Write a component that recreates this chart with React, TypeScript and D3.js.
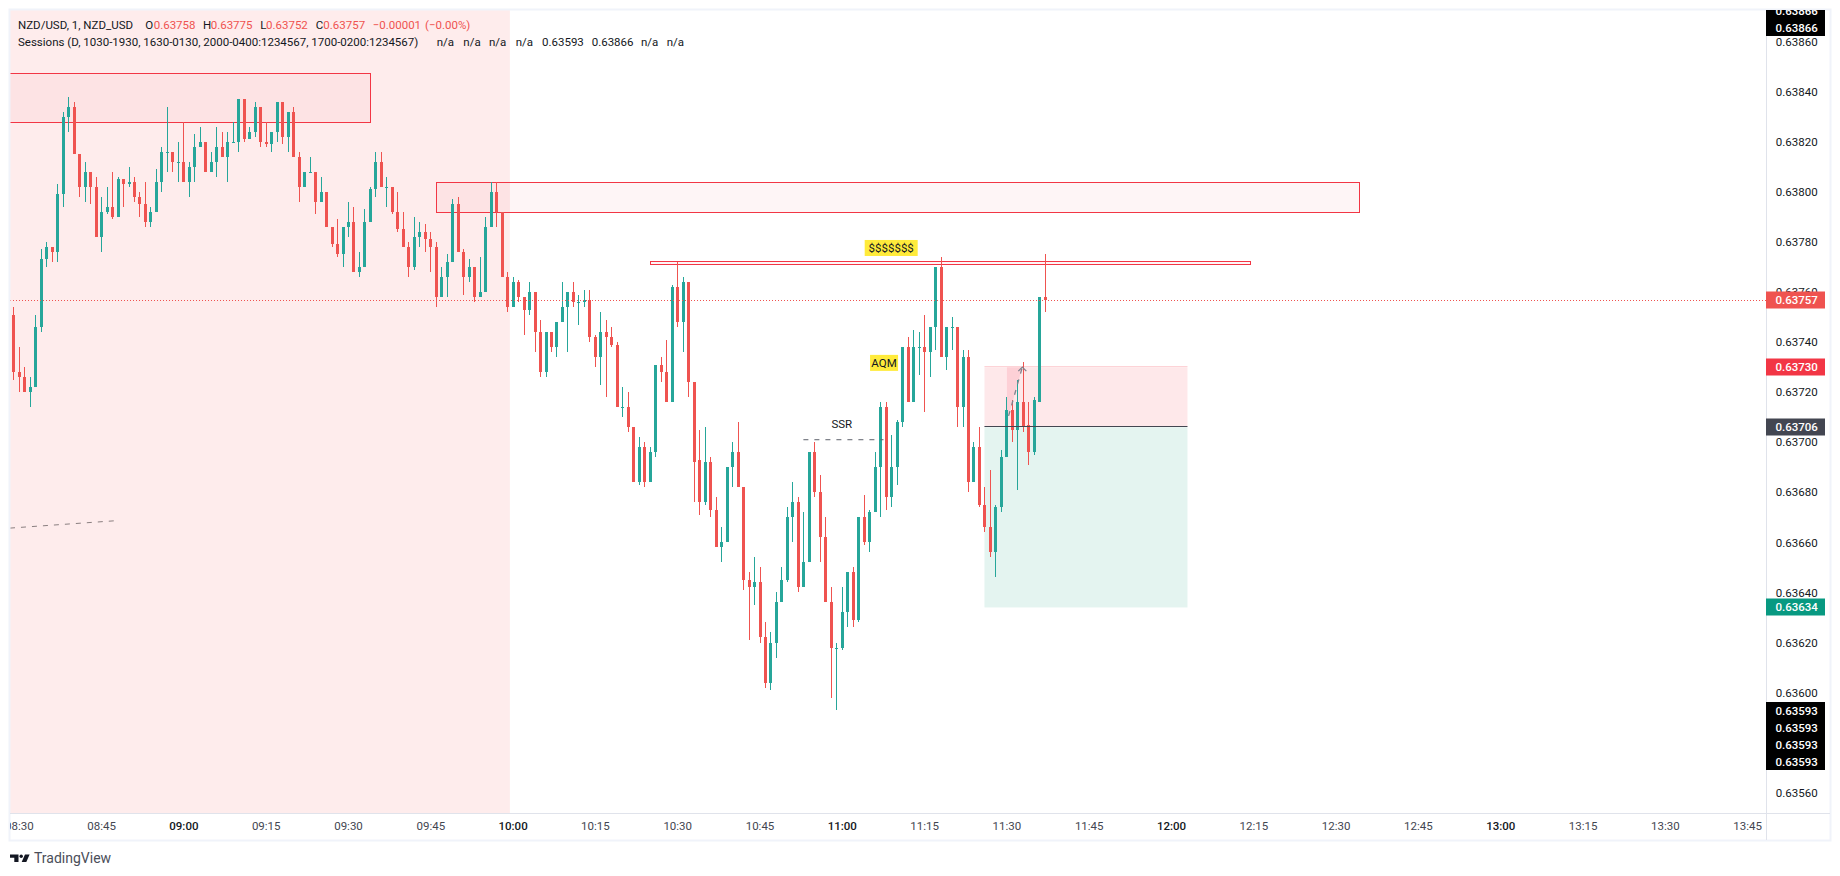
import { useEffect, useRef } from "react";
import * as d3 from "d3";

// prices are in units of 0.00001, one entry per 1 minute bar, first bar is 08:29
const opens = [
  63751, 63728, 63726, 63720, 63722, 63746, 63773, 63778, 63776, 63799, 63830, 63834, 63815, 63802, 63808, 63802, 63782, 63792, 63794, 63790,
  63805, 63803, 63804, 63798, 63795, 63788, 63792, 63804, 63816, 63816, 63812, 63812, 63804, 63810, 63818, 63820, 63808, 63812, 63818, 63814,
  63820, 63820, 63837, 63821, 63824, 63834, 63820, 63819, 63824, 63836, 63822, 63832, 63814, 63802, 63808, 63808, 63796, 63800, 63786, 63779,
  63775, 63786, 63788, 63768, 63770, 63788, 63801, 63812, 63802, 63802, 63792, 63785, 63778, 63770, 63782, 63784, 63781, 63778, 63758, 63766,
  63772, 63795, 63776, 63766, 63770, 63758, 63760, 63786, 63800, 63792, 63766, 63754, 63764, 63758, 63753, 63760, 63744, 63728, 63744, 63738,
  63748, 63754, 63760, 63756, 63756, 63757, 63742, 63734, 63744, 63742, 63739, 63714, 63714, 63706, 63684, 63698, 63684, 63696, 63731, 63728,
  63716, 63762, 63748, 63764, 63724, 63693, 63676, 63692, 63673, 63658, 63660, 63690, 63696, 63682, 63645, 63642, 63644, 63622, 63604, 63620,
  63636, 63645, 63670, 63676, 63642, 63652, 63696, 63680, 63662, 63636, 63618, 63618, 63632, 63648, 63629, 63670, 63660, 63672, 63690, 63714,
  63678, 63690, 63708, 63738, 63716, 63738, 63738, 63736, 63746, 63770, 63734, 63746, 63746, 63714, 63734, 63684, 63698, 63675, 63666, 63656,
  63674, 63694, 63713, 63705, 63716, 63707, 63696, 63716, 63758,
];
const highs = [
  63754, 63738, 63730, 63726, 63751, 63777, 63780, 63778, 63803, 63832, 63838, 63836, 63815, 63812, 63808, 63806, 63798, 63802, 63808, 63806,
  63805, 63810, 63806, 63800, 63804, 63794, 63809, 63818, 63834, 63816, 63820, 63828, 63812, 63823, 63826, 63820, 63816, 63826, 63824, 63824,
  63828, 63837, 63837, 63826, 63836, 63834, 63828, 63824, 63836, 63836, 63832, 63834, 63816, 63808, 63814, 63808, 63806, 63800, 63786, 63789,
  63786, 63796, 63794, 63776, 63793, 63802, 63816, 63816, 63806, 63802, 63800, 63792, 63780, 63790, 63788, 63787, 63784, 63780, 63770, 63775,
  63797, 63798, 63777, 63773, 63770, 63774, 63790, 63804, 63804, 63792, 63768, 63766, 63765, 63758, 63764, 63760, 63749, 63744, 63744, 63748,
  63764, 63760, 63764, 63759, 63761, 63761, 63743, 63752, 63749, 63746, 63740, 63722, 63720, 63706, 63702, 63700, 63698, 63731, 63734, 63741,
  63763, 63772, 63766, 63764, 63724, 63705, 63706, 63694, 63678, 63666, 63690, 63700, 63708, 63682, 63648, 63654, 63650, 63628, 63624, 63640,
  63650, 63674, 63684, 63678, 63672, 63696, 63700, 63687, 63670, 63642, 63620, 63642, 63648, 63650, 63670, 63679, 63673, 63696, 63716, 63716,
  63703, 63709, 63738, 63742, 63745, 63744, 63751, 63746, 63770, 63774, 63746, 63750, 63746, 63737, 63737, 63700, 63706, 63682, 63689, 63675,
  63697, 63718, 63717, 63725, 63732, 63716, 63718, 63758, 63775,
];
const lows = [
  63725, 63720, 63720, 63714, 63722, 63744, 63770, 63772, 63772, 63794, 63824, 63815, 63798, 63796, 63795, 63782, 63776, 63791, 63789, 63790,
  63794, 63802, 63796, 63790, 63786, 63786, 63792, 63800, 63808, 63808, 63804, 63804, 63798, 63804, 63818, 63808, 63808, 63806, 63814, 63804,
  63820, 63816, 63820, 63821, 63822, 63818, 63818, 63816, 63820, 63819, 63816, 63814, 63796, 63802, 63808, 63791, 63796, 63786, 63778, 63774,
  63770, 63782, 63768, 63766, 63770, 63788, 63798, 63802, 63794, 63791, 63784, 63778, 63766, 63769, 63778, 63776, 63768, 63754, 63758, 63758,
  63772, 63776, 63759, 63764, 63756, 63758, 63760, 63786, 63786, 63766, 63752, 63754, 63756, 63743, 63751, 63736, 63726, 63726, 63736, 63734,
  63748, 63736, 63754, 63747, 63754, 63740, 63730, 63723, 63718, 63738, 63714, 63710, 63704, 63684, 63683, 63682, 63684, 63694, 63724, 63716,
  63716, 63746, 63736, 63718, 63676, 63671, 63675, 63670, 63658, 63652, 63660, 63682, 63682, 63641, 63621, 63635, 63620, 63602, 63601, 63614,
  63636, 63644, 63660, 63640, 63642, 63652, 63678, 63652, 63636, 63598, 63593, 63617, 63626, 63626, 63628, 63659, 63656, 63672, 63670, 63673,
  63674, 63683, 63706, 63716, 63716, 63727, 63712, 63726, 63737, 63734, 63729, 63737, 63706, 63706, 63680, 63684, 63674, 63664, 63654, 63646,
  63672, 63694, 63700, 63681, 63704, 63691, 63695, 63716, 63752,
];
const closes = [
  63728, 63726, 63720, 63722, 63746, 63773, 63778, 63776, 63799, 63830, 63834, 63815, 63802, 63808, 63802, 63782, 63792, 63794, 63790, 63805,
  63803, 63804, 63798, 63795, 63788, 63792, 63804, 63816, 63816, 63812, 63812, 63804, 63810, 63818, 63820, 63808, 63812, 63818, 63814, 63820,
  63820, 63837, 63821, 63824, 63834, 63820, 63819, 63824, 63836, 63822, 63832, 63814, 63802, 63808, 63808, 63796, 63800, 63786, 63779, 63775,
  63786, 63788, 63768, 63770, 63788, 63801, 63812, 63802, 63802, 63792, 63785, 63778, 63770, 63782, 63784, 63781, 63778, 63758, 63766, 63772,
  63795, 63776, 63766, 63770, 63758, 63760, 63786, 63800, 63792, 63766, 63754, 63764, 63758, 63753, 63760, 63744, 63728, 63744, 63738, 63748,
  63754, 63760, 63756, 63756, 63757, 63742, 63734, 63744, 63742, 63739, 63714, 63714, 63706, 63684, 63698, 63684, 63696, 63731, 63728, 63716,
  63762, 63748, 63764, 63724, 63692, 63676, 63692, 63673, 63658, 63660, 63690, 63696, 63682, 63645, 63642, 63644, 63622, 63604, 63620, 63636,
  63645, 63670, 63676, 63642, 63652, 63696, 63680, 63662, 63636, 63618, 63618, 63632, 63648, 63629, 63670, 63660, 63672, 63690, 63714, 63678,
  63690, 63708, 63738, 63716, 63738, 63738, 63736, 63746, 63770, 63734, 63746, 63746, 63714, 63734, 63684, 63698, 63675, 63666, 63656, 63674,
  63694, 63713, 63705, 63716, 63706, 63696, 63717, 63758, 63757,
];

const priceTicks = [63860, 63840, 63820, 63800, 63780, 63760, 63740, 63720, 63700, 63680, 63660, 63640, 63620, 63600, 63560];
const timeLabels = ["08:30", "08:45", "09:00", "09:15", "09:30", "09:45", "10:00", "10:15", "10:30", "10:45", "11:00", "11:15", "11:30", "11:45", "12:00", "12:15", "12:30", "12:45", "13:00", "13:15", "13:30", "13:45"];

// axis badges, stacked ones keep their own row
const badgeValues = [63757, 63730, 63706, 63634];
const badgeColors = ["#ef5350", "#f23645", "#434651", "#089981"];
const highBadges = [63866, 63866];
const lowBadges = [63593, 63593, 63593, 63593];

// drawings, bar index and price
const zones = [
  { x0: -2, x1: 65, top: 63847.4, bottom: 63828 },
  { x0: 77, x1: 245.2, top: 63803.8, bottom: 63791.8 },
  { x0: 116, x1: 225.3, top: 63772.4, bottom: 63771.3 },
];
const position = { x0: 177, x1: 214, stop: 63730, entry: 63706, target: 63634 };

const legendRow1 = [
  { x: 18, t: "NZD/USD, 1, NZD_USD", c: "#131722" },
  { x: 145.3, t: "O", c: "#131722" },
  { x: 153.7, t: "0.63758", c: "#ef5350" },
  { x: 203, t: "H", c: "#131722" },
  { x: 210.7, t: "0.63775", c: "#ef5350" },
  { x: 260.3, t: "L", c: "#131722" },
  { x: 266, t: "0.63752", c: "#ef5350" },
  { x: 315.7, t: "C", c: "#131722" },
  { x: 323.3, t: "0.63757", c: "#ef5350" },
  { x: 372.7, t: "−0.00001", c: "#ef5350" },
  { x: 425, t: "(−0.00%)", c: "#ef5350" },
];
const legendRow2 = [
  { x: 18, t: "Sessions (D, 1030-1930, 1630-0130, 2000-0400:1234567, 1700-0200:1234567)" },
  { x: 436.7, t: "n/a" },
  { x: 463.3, t: "n/a" },
  { x: 489, t: "n/a" },
  { x: 515.7, t: "n/a" },
  { x: 542, t: "0.63593" },
  { x: 591.7, t: "0.63866" },
  { x: 641, t: "n/a" },
  { x: 666.7, t: "n/a" },
];

const UP = "#26a69a";
const DOWN = "#ef5350";
const FONT = "Roboto, sans-serif";

export default function App() {
  const ref = useRef<SVGSVGElement | null>(null);

  useEffect(() => {
    if (!ref.current) return;
    const svg = d3.select(ref.current);
    svg.selectAll("*").remove();

    const left = 10;
    const top = 10;
    const right = 1766;
    const bottom = 813;
    const frameR = 1830;
    const frameB = 840;

    const x = d3.scaleLinear().domain([0, 91]).range([13.3, 512.6]);
    const y = d3.scaleLinear().domain([63860, 63560]).range([41.7, 792.7]);

    const defs = svg.append("defs");
    defs.append("clipPath").attr("id", "plot").append("rect").attr("x", left).attr("y", top).attr("width", right - left).attr("height", bottom - top);
    defs.append("clipPath").attr("id", "frame").append("rect").attr("x", left).attr("y", top).attr("width", frameR - left).attr("height", frameB - top);

    svg.append("rect").attr("width", 1840).attr("height", 876).attr("fill", "#fff");

    const plot = svg.append("g").attr("clip-path", "url(#plot)");

    // session background, ends half way between the 09:59 and 10:00 bars
    plot.append("rect").attr("x", left).attr("y", top).attr("width", x(90.5) - left).attr("height", bottom - top).attr("fill", "#feecec");

    plot
      .selectAll("rect.zone")
      .data(zones)
      .enter()
      .append("rect")
      .attr("class", "zone")
      .attr("x", (d) => Math.round(x(d.x0)) + 0.5)
      .attr("y", (d) => Math.round(y(d.top)) + 0.5)
      .attr("width", (d) => Math.round(x(d.x1) - x(d.x0)))
      .attr("height", (d) => Math.round(y(d.bottom) - y(d.top)))
      .attr("fill", "rgba(242,54,69,0.05)")
      .attr("stroke", "#f23645")
      .attr("stroke-width", 1);

    // long/short position tool
    const px0 = x(position.x0);
    const pw = x(position.x1) - px0;
    plot.append("rect").attr("x", px0).attr("y", y(position.stop)).attr("width", pw).attr("height", y(position.entry) - y(position.stop)).attr("fill", "#fee8ea");
    plot.append("rect").attr("x", px0).attr("y", y(position.entry)).attr("width", pw).attr("height", y(position.target) - y(position.entry)).attr("fill", "#e4f4f0");
    plot.append("line").attr("x1", px0).attr("x2", px0 + pw).attr("y1", Math.round(y(position.stop)) - 0.5).attr("y2", Math.round(y(position.stop)) - 0.5).attr("stroke", "#fdd3d7");
    const arrowFrom = { i: 181.4, p: 63710.5 };
    const arrowTo = { i: 183.9, p: 63730 };
    const reached = d3.line<[number, number]>()
      .x((d) => x(d[0]))
      .y((d) => y(d[1]));
    plot
      .append("path")
      .attr("d", reached([[181.1, position.stop], [arrowTo.i, position.stop], [arrowFrom.i, arrowFrom.p], [181.1, arrowFrom.p]]) + "Z")
      .attr("fill", "#fdd0d6");

    // candles
    const bars = d3.range(opens.length);
    const col = (i: number) => (closes[i] >= opens[i] ? UP : DOWN);
    plot
      .selectAll("rect.wick")
      .data(bars)
      .enter()
      .append("rect")
      .attr("class", "wick")
      .attr("x", (i) => Math.round(x(i)))
      .attr("y", (i) => Math.round(y(highs[i])))
      .attr("width", 1)
      .attr("height", (i) => Math.max(1, Math.round(y(lows[i])) - Math.round(y(highs[i]))))
      .attr("fill", col);
    plot
      .selectAll("rect.body")
      .data(bars)
      .enter()
      .append("rect")
      .attr("class", "body")
      .attr("x", (i) => Math.round(x(i)) - 1)
      .attr("y", (i) => Math.round(y(Math.max(opens[i], closes[i]))))
      .attr("width", 3)
      .attr("height", (i) => Math.max(1, Math.round(y(Math.min(opens[i], closes[i]))) - Math.round(y(Math.max(opens[i], closes[i])))))
      .attr("fill", col);

    // entry line sits over the candles
    plot.append("line").attr("x1", px0).attr("x2", px0 + pw).attr("y1", Math.round(y(position.entry)) - 0.5).attr("y2", Math.round(y(position.entry)) - 0.5).attr("stroke", "#434651");

    // last price
    plot
      .append("line")
      .attr("x1", left)
      .attr("x2", right)
      .attr("y1", Math.round(y(closes[closes.length - 1])) + 0.5)
      .attr("y2", Math.round(y(closes[closes.length - 1])) + 0.5)
      .attr("stroke", DOWN)
      .attr("stroke-dasharray", "1 2");

    // small drawings
    const dashed = (i0: number, p0: number, i1: number, p1: number, c: string) =>
      plot.append("line").attr("x1", x(i0)).attr("y1", y(p0)).attr("x2", x(i1)).attr("y2", y(p1)).attr("stroke", c).attr("stroke-width", 1).attr("stroke-dasharray", "5 6");
    dashed(-0.6, 63665.7, 18.36, 63668.6, "#8a7f80");
    dashed(144, 63701, 158.6, 63701, "#5d606b");
    dashed(arrowFrom.i, arrowFrom.p, arrowTo.i, arrowTo.p, "#80838d").attr("stroke-width", 1.3);
    plot
      .append("path")
      .attr("d", `M${x(arrowTo.i) - 4},${y(arrowTo.p) + 4}L${x(arrowTo.i)},${y(arrowTo.p)}L${x(arrowTo.i) + 4},${y(arrowTo.p) + 4}`)
      .attr("fill", "none")
      .attr("stroke", "#80838d")
      .attr("stroke-width", 1.3);

    plot
      .append("text")
      .attr("x", x(151))
      .attr("y", y(63705.5))
      .attr("text-anchor", "middle")
      .attr("font-family", FONT)
      .attr("font-size", 11.5)
      .attr("fill", "#131722")
      .text("SSR");

    const tag = (i: number, p: number, w: number, t: string) => {
      plot.append("rect").attr("x", x(i) - w / 2).attr("y", y(p) - 8).attr("width", w).attr("height", 16).attr("fill", "#ffeb3b");
      plot
        .append("text")
        .attr("x", x(i))
        .attr("y", y(p))
        .attr("dy", "0.35em")
        .attr("text-anchor", "middle")
        .attr("font-family", FONT)
        .attr("font-size", 11.5)
        .attr("fill", "#131722")
        .text(t);
    };
    tag(160, 63777.6, 53, "$$$$$$$");
    tag(158.7, 63731.7, 28, "AQM");

    // frame and separators
    svg.append("rect").attr("x", 9.5).attr("y", 9.5).attr("width", frameR - 9).attr("height", frameB - 9).attr("fill", "none").attr("stroke", "#f0f3fa").attr("stroke-width", 2);
    svg.append("line").attr("x1", left).attr("x2", frameR).attr("y1", bottom + 0.5).attr("y2", bottom + 0.5).attr("stroke", "#e0e3eb");
    svg.append("line").attr("x1", right + 0.5).attr("x2", right + 0.5).attr("y1", top).attr("y2", frameB).attr("stroke", "#e0e3eb");

    const chrome = svg.append("g").attr("clip-path", "url(#frame)");

    // price axis
    chrome
      .append("g")
      .attr("transform", `translate(${right},0)`)
      .call(d3.axisRight(y).tickValues(priceTicks).tickSize(0).tickFormat((d) => (+d / 100000).toFixed(5)))
      .call((sel) => sel.select(".domain").remove())
      .selectAll("text")
      .attr("x", 30.7)
      .attr("text-anchor", "middle")
      .attr("font-size", 11.5)
      .attr("font-family", FONT)
      .attr("fill", "#131722");

    // time axis
    const timeIdx = timeLabels.map((_, i) => 1 + i * 15);
    chrome
      .append("g")
      .attr("transform", `translate(0,${bottom})`)
      .call(d3.axisBottom(x).tickValues(timeIdx).tickSize(0).tickFormat((_, i) => timeLabels[i]))
      .call((sel) => sel.select(".domain").remove())
      .selectAll("text")
      .attr("y", 13)
      .attr("dy", "0.35em")
      .attr("font-size", 11.5)
      .attr("font-family", FONT)
      .attr("font-weight", (_, i) => (timeLabels[i].endsWith(":00") ? 500 : 400))
      .attr("fill", (_, i) => (timeLabels[i].endsWith(":00") ? "#131722" : "#434651"));

    // badges over the axis labels
    const badge = (cy: number, v: number, fill: string) => {
      chrome.append("rect").attr("x", right).attr("y", cy - 8.5).attr("width", 59).attr("height", 17).attr("fill", fill);
      chrome
        .append("text")
        .attr("x", right + 30.7)
        .attr("y", cy)
        .attr("dy", "0.35em")
        .attr("text-anchor", "middle")
        .attr("font-size", 11.5)
        .attr("font-weight", 500)
        .attr("font-family", FONT)
        .attr("fill", "#fff")
        .text((v / 100000).toFixed(5));
    };
    badgeValues.forEach((v, i) => badge(Math.round(y(v)), v, badgeColors[i]));
    highBadges.forEach((v, i) => badge(Math.round(y(v)) + 0.5 - i * 16.7 , v, "#000"));
    lowBadges.forEach((v, i) => badge(Math.round(y(v)) + 0.5 + i * 17, v, "#000"));

    // legend
    const legend = svg.append("g").attr("font-family", FONT).attr("font-size", 11.5);
    legend.selectAll("text.r1").data(legendRow1).enter().append("text").attr("class", "r1").attr("x", (d) => d.x).attr("y", 29).attr("fill", (d) => d.c).text((d) => d.t);
    legend.selectAll("text.r2").data(legendRow2).enter().append("text").attr("class", "r2").attr("x", (d) => d.x).attr("y", 46).attr("fill", "#131722").text((d) => d.t);

    // TradingView logo
    const logo = svg.append("g").attr("fill", "#131722");
    logo.append("path").attr("d", "M10 854.5h8.5v7.5h-4.2v-4.2h-4.3z");
    logo.append("circle").attr("cx", 21.2).attr("cy", 856.2).attr("r", 1.7);
    logo.append("path").attr("d", "M25 854.5h4.6l-3.3 7.5h-4.6z");
    svg
      .append("text")
      .attr("x", 34)
      .attr("y", 863)
      .attr("font-family", FONT)
      .attr("font-size", 14)
      .attr("fill", "#4a4e59")
      .text("TradingView");
  }, []);

  return <svg ref={ref} width={1840} height={876} style={{ position: "absolute", left: 0, top: 0 }} />;
}
